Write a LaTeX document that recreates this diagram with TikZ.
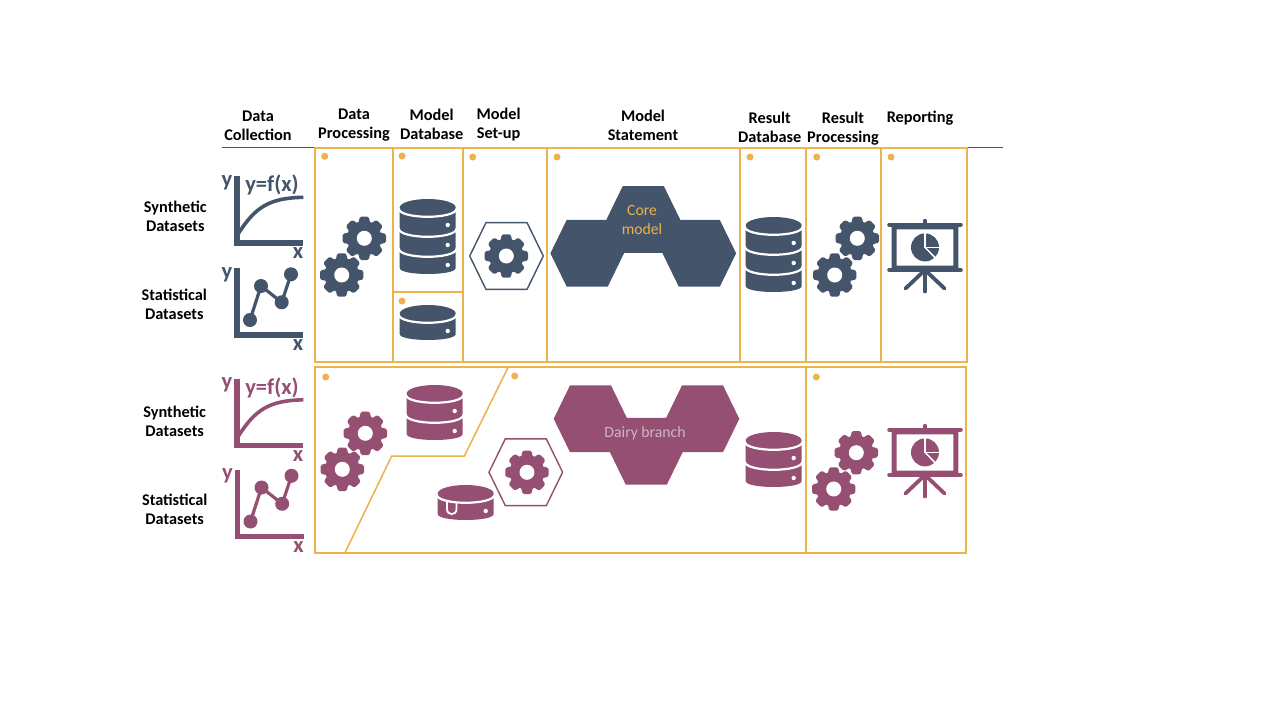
\documentclass[tikz,border=0pt]{standalone}
\usepackage{fontspec}
\setmainfont{Carlito}
\definecolor{slateink}{HTML}{44546A}
\definecolor{plumink}{HTML}{954F72}
\definecolor{framegold}{HTML}{EDB24B}
\definecolor{dairytext}{HTML}{CDB6C2}
\tikzstyle{headlabel}=[align=center,inner sep=0pt,font=\fontsize{16.3}{19}\selectfont\bfseries]
\tikzstyle{hexlabel}=[align=center,inner sep=0pt,font=\fontsize{15.7}{19}\selectfont]
\tikzstyle{chartlabel}=[inner sep=0pt,font=\fontsize{22.5}{24}\selectfont\bfseries]
\tikzstyle{framebox}=[draw=framegold,line width=2pt]
\tikzstyle{frameslim}=[draw=framegold,line width=1.5pt]
\tikzstyle{golddot}=[fill=framegold]
\tikzset{
  pics/gearwheel/.style={code={
    \fill[#1] (0,0) circle (17.3);
    \foreach \ang in {0,45,...,315}
      \fill[#1,rotate=\ang,rounded corners=1.5pt] (-6.2,14)--(-4.4,21.7)--(4.4,21.7)--(6.2,14)--cycle;
    \fill[white] (0,0) circle (7.5);
  }},
  pics/dbstack/.style 2 args={code={
    \pgfmathsetmacro\stackh{#1*20+0.5}
    \fill[#2] (-28,0)--(-28,\stackh) .. controls (-28,\stackh+8) and (28,\stackh+8) .. (28,\stackh)--(28,0)--cycle;
    \fill[#2] (0,0) ellipse [x radius=28,y radius=8.5];
    \foreach \k in {1,...,#1}{
      \pgfmathsetmacro\arcy{(\k-1)*20+0.8}
      \pgfmathsetmacro\doty{\k*20-2.5}
      \draw[white,line width=2.2pt] (-29,\arcy) .. controls (-29,\arcy+11.3) and (29,\arcy+11.3) .. (29,\arcy);
      \fill[white] (20,\doty) circle (2.2);
    }
  }},
  pics/hexcell/.style={code={
    \path[pic actions] (-36.8,0)--(-20.5,-33.4)--(20.5,-33.4)--(36.8,0)--(20.5,33.4)--(-20.5,33.4)--cycle;
  }},
  pics/chartaxes/.style={code={
    \draw[#1,line width=5.5pt] (0,-67)--(0,0)--(66.3,0);
    \node[chartlabel,text=#1] (ylab) at (-10,-60.5) {y};
    \node[chartlabel,text=#1] (xlab) at (61,10.5) {x};
  }},
  pics/curvechart/.style={code={
    \pic (ax) {chartaxes=#1};
    \draw[#1,line width=3.6pt] (0.5,-8) .. controls (18,-36) and (32,-45) .. (66.3,-45.7);
    \node[chartlabel,text=#1] (rule) at (35,-58) {y=f(x)};
  }},
  pics/dotchart/.style={code={
    \pic (ax) {chartaxes=#1};
    \draw[#1,line width=3.2pt] (13,-15)--(24,-49)--(44.7,-32.7)--(54,-60.7);
    \foreach \px/\py in {13/-15,24/-49,44.7/-32.7,54/-60.7}
      \fill[#1] (\px,\py) circle (7);
  }},
  pics/screenicon/.style={code={
    \draw[#1,line width=4.2pt,line cap=round] (-35.7,-25.3)--(35.7,-25.3);
    \draw[#1,line width=4.2pt,line cap=round] (-35.7,20)--(35.7,20);
    \fill[#1,even odd rule] (-33.3,-26)rectangle(33.3,21) (-28.3,-20.7)rectangle(28.3,15.7);
    \draw[#1,line width=3.4pt,line cap=round] (0,-29.5)--(0,-24);
    \draw[#1,line width=3.8pt,line cap=round] (0,20)--(0,41.5);
    \draw[#1,line width=3.8pt,line cap=round] (0,20)--(-19.5,38.5);
    \draw[#1,line width=3.8pt,line cap=round] (0,20)--(19.5,38.5);
    \fill[#1] (0,-2.6) circle (14);
    \draw[white,line width=1.5pt] (0,-18)--(0,-2.6)--(15,-2.6);
    \draw[white,line width=1.5pt] (0,-2.6)--(11.5,9);
  }}
}
\begin{document}
\begin{tikzpicture}[x=1pt,y=-1pt]
\useasboundingbox[fill=white] (0,0) rectangle (1280,720);
\draw[slateink,line width=0.8pt] (222.3,147.7)--(1003,147.7);
\node[headlabel] (hcollect) at (258,125.5) {Data\\Collection};
\node[headlabel] (hprocess) at (354,125.5) {Data\\Processing};
\node[headlabel] (hmodeldb) at (431.7,124) {Model\\Database};
\node[headlabel] (hsetup) at (498.7,125) {Model\\Set-up};
\node[headlabel] (hstatement) at (643,125) {Model\\Statement};
\node[headlabel] (hresultdb) at (769.7,127) {Result\\Database};
\node[headlabel] (hresultproc) at (843,128.5) {Result\\Processing};
\node[headlabel] (hreport) at (920,118.5) {Reporting};
\node[headlabel] (usynth) at (175.3,216) {Synthetic\\Datasets};
\node[headlabel] (ustat) at (174.3,304) {Statistical\\Datasets};
\node[headlabel] (lsynth) at (174.7,421) {Synthetic\\Datasets};
\node[headlabel] (lstat) at (174.7,509) {Statistical\\Datasets};

\draw[framebox] (315,147.7) rectangle (967,361.7);
\draw[framebox] (393,147.7)--(393,361.7);
\draw[framebox] (463,147.7)--(463,361.7);
\draw[framebox] (547,147.7)--(547,361.7);
\draw[framebox] (739.7,147.7)--(739.7,361.7);
\draw[framebox] (805.7,147.7)--(805.7,361.7);
\draw[framebox] (880.7,147.7)--(880.7,361.7);
\draw[framebox] (393,292)--(463,292);
\draw[framebox] (315,367) rectangle (966,552.7);
\draw[framebox] (806,367)--(806,552.7);
\draw[frameslim] (345,552.7)--(391.7,456)--(464.3,456)--(508.3,367);

\foreach \dx/\dy in {324.7/156.3,402/156,402/301,472.7/157,557/157,750/157,816.7/157,891/157,325.7/377,514.7/376,816.3/377}
  \fill[golddot] (\dx,\dy) circle (3.5);

\pic (uchartone) at (237,243) {curvechart=slateink};
\pic (ucharttwo) at (237,335) {dotchart=slateink};
\pic (lchartone) at (237,445.5) {curvechart=plumink};
\pic (lcharttwo) at (237.5,536.5) {dotchart=plumink};

\pic (ugearone) at (364.3,238.3) {gearwheel=slateink};
\pic (ugeartwo) at (341.7,275) {gearwheel=slateink};
\pic (ugearset) at (506.3,256) {gearwheel=slateink};
\pic (ugearres) at (857.3,238.3) {gearwheel=slateink};
\pic (ugearrestwo) at (834.7,275) {gearwheel=slateink};
\pic (lgearone) at (365.3,433.3) {gearwheel=plumink};
\pic (lgeartwo) at (342.3,469.3) {gearwheel=plumink};
\pic (lgearset) at (527,472.3) {gearwheel=plumink};
\pic (lgearres) at (856.3,452.7) {gearwheel=plumink};
\pic (lgearrestwo) at (833.7,489) {gearwheel=plumink};

\pic (udbmain) at (427.7,207.5) {dbstack={3}{slateink}};
\pic (udbsmall) at (427.7,313.5) {dbstack={1}{slateink}};
\pic (udbresult) at (773.7,225.5) {dbstack={3}{slateink}};
\pic (ldbmain) at (434.7,393.5) {dbstack={2}{plumink}};
\pic (ldbsmall) at (465.7,493.5) {dbstack={1}{plumink}};
\pic (ldbresult) at (773.7,440.5) {dbstack={2}{plumink}};
\draw[white,line width=1.8pt] (447,502)--(447,509) .. controls (447,515.8) and (456.5,515.8) .. (456.5,509)--(456.5,502);

\pic[draw=slateink,line width=1.4pt] (usethex) at (506.5,256) {hexcell};
\pic[draw=plumink,line width=1.4pt] (lsethex) at (525.8,472.2) {hexcell};
\pic[fill=slateink] (uhexleft) at (587.2,253.3) {hexcell};
\pic[fill=slateink] (uhexright) at (699.3,253.3) {hexcell};
\pic[fill=slateink] (uhexcore) at (643.3,219.4) {hexcell};
\pic[fill=plumink] (lhexleft) at (590.5,418.8) {hexcell};
\pic[fill=plumink] (lhexright) at (702.5,418.8) {hexcell};
\pic[fill=plumink] (lhexbottom) at (646.3,451.3) {hexcell};
\node[hexlabel,text=framegold] (corelabel) at (642,220) {Core\\model};
\node[hexlabel,text=dairytext] (dairylabel) at (645,433) {Dairy branch};

\pic (uscreen) at (925,250) {screenicon=slateink};
\pic (lscreen) at (925,455) {screenicon=plumink};
\end{tikzpicture}
\end{document}
